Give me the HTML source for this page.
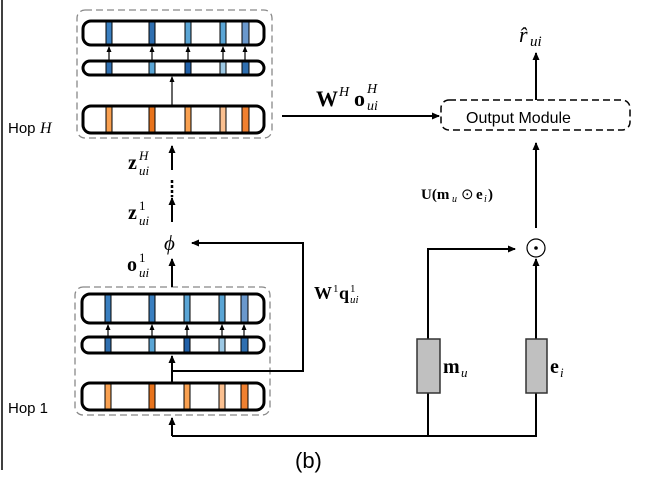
<!DOCTYPE html>
<html><head><style>body{margin:0;background:#fff}svg{display:block}.sans{font-family:"Liberation Sans",sans-serif}.ser{font-family:"Liberation Serif",serif}</style></head><body>
<svg width="659" height="481" viewBox="0 0 659 481" xmlns="http://www.w3.org/2000/svg">
<defs><marker id="a" markerWidth="8" markerHeight="8" refX="7" refY="4" orient="auto" markerUnits="userSpaceOnUse"><path d="M0,0.5 L8,4 L0,7.5z" fill="#000"/></marker>
<marker id="s" markerWidth="6" markerHeight="6" refX="5" refY="3" orient="auto" markerUnits="userSpaceOnUse"><path d="M0,0.5 L6,3 L0,5.5z" fill="#000"/></marker></defs>
<line x1="2" y1="0" x2="2" y2="470" stroke="#000" stroke-width="1.5"/>
<!-- Hop H -->
<rect x="77" y="10" width="195" height="128" rx="8" fill="none" stroke="#888" stroke-width="1.3" stroke-dasharray="7,4"/>
<g stroke="#000" stroke-width="3">
<rect x="83" y="21" width="181" height="24" rx="8" fill="#fff"/>
<rect x="83" y="61" width="181" height="14" rx="7" fill="#fff"/>
<rect x="83" y="106" width="181" height="27" rx="8" fill="#fff"/>
</g>
<g stroke="#000" stroke-width="1">
<rect x="106" y="22" width="6" height="22" fill="#3a7fc0"/><rect x="149" y="22" width="6" height="22" fill="#2f6fb0"/><rect x="185" y="22" width="6" height="22" fill="#5aa5d5"/><rect x="220" y="22" width="6" height="22" fill="#5aa5d5"/><rect x="242" y="22" width="7" height="22" fill="#6a98cc"/>
<rect x="106" y="62" width="6" height="12" fill="#2f6fb0"/><rect x="149" y="62" width="6" height="12" fill="#5aa5d5"/><rect x="185" y="62" width="6" height="12" fill="#2060a8"/><rect x="220" y="62" width="6" height="12" fill="#9cc8e4"/><rect x="242" y="62" width="7" height="12" fill="#2f6fb0"/>
<rect x="106" y="107" width="6" height="25" fill="#f9a050"/><rect x="149" y="107" width="6" height="25" fill="#e8731c"/><rect x="185" y="107" width="6" height="25" fill="#f9a050"/><rect x="220" y="107" width="6" height="25" fill="#fbc090"/><rect x="242" y="107" width="7" height="25" fill="#f08030"/>
</g>
<g stroke="#000" stroke-width="1.2" marker-end="url(#s)">
<line x1="109" y1="60" x2="109" y2="47"/><line x1="152" y1="60" x2="152" y2="47"/><line x1="188" y1="60" x2="188" y2="47"/><line x1="223" y1="60" x2="223" y2="47"/><line x1="245" y1="60" x2="245" y2="47"/>
<line x1="172" y1="105" x2="172" y2="77"/>
</g>
<text class="sans" x="8" y="133" font-size="15">Hop</text><text class="ser" x="40" y="133" font-size="16" font-style="italic">H</text>
<!-- Hop 1 -->
<rect x="75" y="287" width="195" height="128" rx="8" fill="none" stroke="#888" stroke-width="1.3" stroke-dasharray="7,4"/>
<g stroke="#000" stroke-width="3">
<rect x="82" y="294" width="182" height="29" rx="8" fill="#fff"/>
<rect x="82" y="337" width="182" height="16" rx="7" fill="#fff"/>
<rect x="82" y="383" width="182" height="27" rx="8" fill="#fff"/>
</g>
<g stroke="#000" stroke-width="1">
<rect x="105" y="295" width="6" height="27" fill="#3a7fc0"/><rect x="149" y="295" width="6" height="27" fill="#3a7fc0"/><rect x="184" y="295" width="6" height="27" fill="#5aa5d5"/><rect x="219" y="295" width="6" height="27" fill="#5aa5d5"/><rect x="241" y="295" width="7" height="27" fill="#6a98cc"/>
<rect x="105" y="338" width="6" height="14" fill="#2f6fb0"/><rect x="149" y="338" width="6" height="14" fill="#5aa5d5"/><rect x="184" y="338" width="6" height="14" fill="#2060a8"/><rect x="219" y="338" width="6" height="14" fill="#9cc8e4"/><rect x="241" y="338" width="7" height="14" fill="#2f6fb0"/>
<rect x="105" y="384" width="6" height="25" fill="#f9a050"/><rect x="149" y="384" width="6" height="25" fill="#e8731c"/><rect x="184" y="384" width="6" height="25" fill="#f9a050"/><rect x="219" y="384" width="6" height="25" fill="#fbc090"/><rect x="241" y="384" width="7" height="25" fill="#f08030"/>
</g>
<g stroke="#000" stroke-width="1.2" marker-end="url(#s)">
<line x1="108" y1="336" x2="108" y2="325"/><line x1="152" y1="336" x2="152" y2="325"/><line x1="187" y1="336" x2="187" y2="325"/><line x1="222" y1="336" x2="222" y2="325"/><line x1="244" y1="336" x2="244" y2="325"/>
</g>
<text class="sans" x="8" y="413" font-size="15">Hop 1</text>
<!-- connectors -->
<g stroke="#000" stroke-width="2" fill="none">
<line x1="172" y1="382" x2="172" y2="356" marker-end="url(#a)"/>
<polyline points="172,371 303,371 303,243 192,243" marker-end="url(#a)"/>
<polyline points="172,436 536,436 536,393"/>
<line x1="172" y1="436" x2="172" y2="418" marker-end="url(#a)"/>
<line x1="428" y1="436" x2="428" y2="393"/>
<polyline points="428,339 428,249 515,249" marker-end="url(#a)"/>
<line x1="536" y1="339" x2="536" y2="259" marker-end="url(#a)"/>
<line x1="536" y1="228" x2="536" y2="143" marker-end="url(#a)"/>
<line x1="536" y1="100" x2="536" y2="53" marker-end="url(#a)"/>
<line x1="282" y1="116" x2="439" y2="116" marker-end="url(#a)"/>
<line x1="172" y1="287" x2="172" y2="259" marker-end="url(#a)"/>
<line x1="172" y1="222" x2="172" y2="198" marker-end="url(#a)"/>
<line x1="172" y1="170" x2="172" y2="146" marker-end="url(#a)"/>
</g>
<line x1="172" y1="180" x2="172" y2="197" stroke="#000" stroke-width="2.5" stroke-dasharray="3,2"/>
<circle cx="536" cy="248" r="9" fill="none" stroke="#000" stroke-width="1.2"/><circle cx="536" cy="248" r="1.8" fill="#000"/>
<rect x="417" y="339" width="23" height="54" fill="#c0c0c0" stroke="#333" stroke-width="1.5"/>
<rect x="526" y="339" width="21" height="54" fill="#c0c0c0" stroke="#333" stroke-width="1.5"/>
<rect x="441" y="100" width="189" height="30" rx="8" fill="none" stroke="#000" stroke-width="1.5" stroke-dasharray="7,4"/>
<text class="sans" x="466" y="123" font-size="16">Output Module</text>
<!-- labels -->
<g class="ser">
<text x="519" y="42" font-size="22" font-style="italic">r̂</text><text x="530" y="46" font-size="15" font-style="italic">ui</text>
<text x="316" y="106" font-size="22" font-weight="bold">W</text><text x="339" y="96" font-size="14" font-style="italic">H</text>
<text x="354" y="106" font-size="22" font-weight="bold">o</text><text x="367" y="93" font-size="14" font-style="italic">H</text><text x="367" y="110" font-size="14" font-style="italic">ui</text>
<text x="421" y="199" font-size="15" font-weight="bold">U(m</text><text x="452" y="202" font-size="10" font-style="italic">u</text><text x="461" y="199" font-size="15">⊙</text><text x="476" y="199" font-size="15" font-weight="bold">e</text><text x="484" y="202" font-size="10" font-style="italic">i</text><text x="488" y="199" font-size="15" font-weight="bold">)</text>
<text x="314" y="299" font-size="18" font-weight="bold">W</text><text x="333" y="292" font-size="11">1</text><text x="339" y="299" font-size="18" font-weight="bold">q</text><text x="350" y="292" font-size="11">1</text><text x="350" y="303" font-size="11" font-style="italic">ui</text>
<text x="443" y="373" font-size="20" font-weight="bold">m</text><text x="461" y="377" font-size="13" font-style="italic">u</text>
<text x="550" y="373" font-size="20" font-weight="bold">e</text><text x="560" y="377" font-size="13" font-style="italic">i</text>
<text x="128" y="169" font-size="20" font-weight="bold">z</text><text x="139" y="160" font-size="13" font-style="italic">H</text><text x="139" y="175" font-size="13" font-style="italic">ui</text>
<text x="128" y="219" font-size="20" font-weight="bold">z</text><text x="139" y="210" font-size="13">1</text><text x="139" y="225" font-size="13" font-style="italic">ui</text>
<text x="127" y="271" font-size="20" font-weight="bold">o</text><text x="139" y="262" font-size="13">1</text><text x="139" y="277" font-size="13" font-style="italic">ui</text>
<text x="164" y="250" font-size="21" font-style="italic">ϕ</text>
</g>
<text class="sans" x="295" y="468" font-size="22">(b)</text>
</svg>
</body></html>
